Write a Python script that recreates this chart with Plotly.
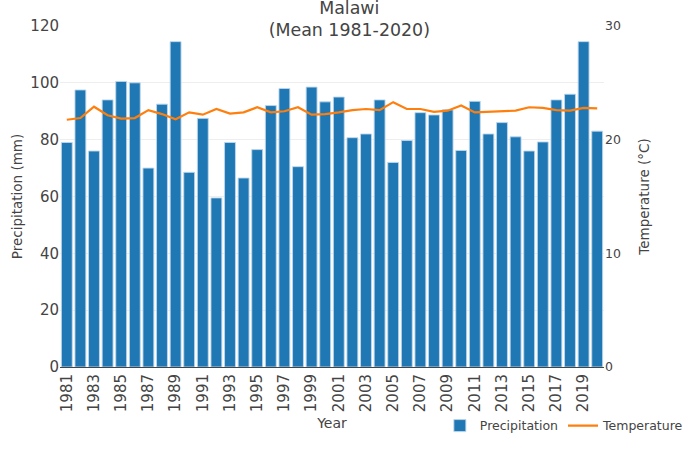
import plotly.graph_objects as go

years = list(range(1981, 2021))
precipitation = [79, 97.5, 76, 94, 100.5, 100, 70, 92.5, 114.5, 68.5,
                 87.5, 59.5, 79, 66.5, 76.5, 92, 98, 70.5, 98.5, 93.3,
                 95, 80.7, 82, 94, 72, 79.7, 89.5, 88.7, 90.5, 76.2,
                 93.5, 82, 86, 81, 76, 79.2, 94, 96, 114.5, 83]
temperature = [21.75, 21.9, 22.9, 22.15, 21.85, 21.9, 22.6, 22.25, 21.8, 22.4,
               22.2, 22.7, 22.3, 22.4, 22.85, 22.4, 22.5, 22.85, 22.2, 22.25,
               22.4, 22.6, 22.7, 22.6, 23.3, 22.7, 22.7, 22.45, 22.55, 23.0,
               22.4, 22.45, 22.5, 22.55, 22.85, 22.8, 22.6, 22.55, 22.8, 22.75]

FONT = "DejaVu Sans"
TXT = "#444"

fig = go.Figure()
fig.add_trace(go.Bar(x=years, y=precipitation, name="Precipitation",
                     marker=dict(color="#1f77b4", line=dict(color="rgba(190,215,235,0.9)", width=1))))
fig.add_trace(go.Scatter(x=years, y=temperature, name="Temperature", mode="lines",
                         yaxis="y2", line=dict(color="#ff7f0e", width=2.2)))

fig.update_layout(
    width=700, height=450, autosize=False,
    paper_bgcolor="white", plot_bgcolor="white",
    font=dict(family=FONT, color=TXT),
    margin=dict(l=60, r=96, t=26, b=83, autoexpand=False),
    title=dict(text="Malawi<br>(Mean 1981-2020)", x=0.499, xanchor="center", xref="container",
               y=0.970, yanchor="top", font=dict(size=17.4, family=FONT, color=TXT)),
    bargap=0.2,
    showlegend=True,
    legend=dict(orientation="h", x=1.156, xanchor="right", y=-0.129, yanchor="top",
                font=dict(size=12.5, family=FONT, color=TXT), bgcolor="rgba(0,0,0,0)"),
    xaxis=dict(title=dict(text="Year", font=dict(size=14), standoff=7),
               tickmode="array", tickvals=years[::2], ticktext=[str(v) for v in years[::2]],
               tickangle=-90, tickfont=dict(size=15), range=[1980.5, 2020.5],
               showline=True, linecolor="#444", linewidth=1, showgrid=False, zeroline=False),
    yaxis=dict(title=dict(text="Precipitation (mm)", font=dict(size=13.5), standoff=4),
               range=[0, 120], tickvals=[0, 20, 40, 60, 80, 100, 120],
               tickfont=dict(size=15), gridcolor="#eee", zeroline=False),
    yaxis2=dict(title=dict(text="Temperature (°C)", font=dict(size=13.5), standoff=19),
                overlaying="y", side="right", range=[0, 30], tickvals=[0, 10, 20, 30],
                tickfont=dict(size=12.5), showgrid=False, zeroline=False),
)

fig.write_html("out.html", config={"displayModeBar": False},
               post_script="document.body.style.margin='0';")
